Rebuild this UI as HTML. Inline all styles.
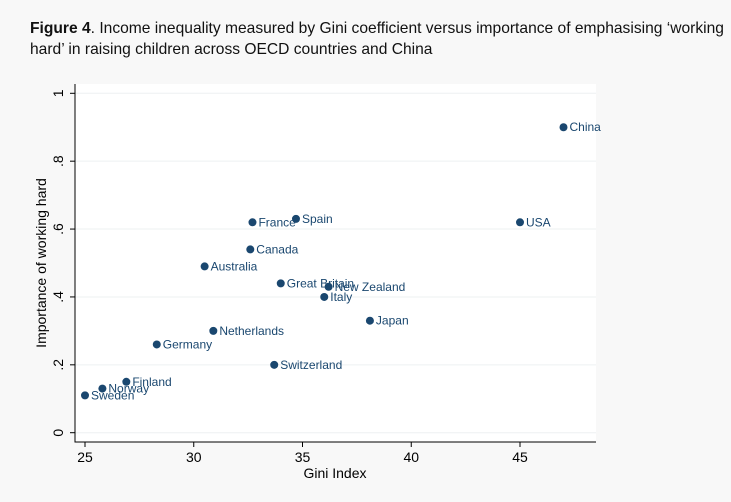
<!DOCTYPE html>
<html><head><meta charset="utf-8"><style>
body{margin:0;background:#f8f8f8;width:731px;height:502px;overflow:hidden;font-family:"Liberation Sans",sans-serif}
#title{position:absolute;left:30px;top:18px;font-size:15.6px;line-height:21px;color:#111;width:700px}
</style></head><body>
<div id="title"><b>Figure 4</b>. Income inequality measured by Gini coefficient versus importance of emphasising ‘working hard’ in raising children across OECD countries and China</div>
<svg id="chart" width="731" height="502" style="position:absolute;left:0;top:0" font-family="Liberation Sans, sans-serif"></svg>
<script>
const countries=["Sweden","Norway","Finland","Germany","Netherlands","Australia","Canada","France","Spain","Great Britain","New Zealand","Italy","Japan","Switzerland","USA","China"];
const gini=[25,25.8,26.9,28.3,30.9,30.5,32.6,32.7,34.7,34.0,36.2,36.0,38.1,33.7,45.0,47.0];
const working=[0.11,0.13,0.15,0.26,0.30,0.49,0.54,0.62,0.63,0.44,0.43,0.40,0.33,0.20,0.62,0.90];
const xTicks=[25,30,35,40,45];
const yTicks=[0,0.2,0.4,0.6,0.8,1];
const yTickLabels=["0",".2",".4",".6",".8","1"];
const NS="http://www.w3.org/2000/svg";
const svg=document.getElementById('chart');
const X=g=>85+(g-25)*21.75;
const Y=v=>432.7-v*339.4;
function el(t,a,p){const e=document.createElementNS(NS,t);for(const k in a)e.setAttribute(k,a[k]);(p||svg).appendChild(e);return e;}
const bg=el('rect',{x:75,y:84,width:521,height:358,fill:'#fff'});


yTicks.forEach((v,i)=>{
  const g=el('line',{x1:75,x2:596,y1:Y(v),y2:Y(v),stroke:'#eef0f2','stroke-width':1});
  
  
  el('line',{x1:70,x2:75,y1:Y(v),y2:Y(v),stroke:'#000'});
  const t=el('text',{x:0,y:0,transform:`translate(${63},${Y(v)}) rotate(-90)`,'text-anchor':'middle','font-size':14,fill:'#000'});
  t.textContent=yTickLabels[i];
  
  
});
xTicks.forEach(v=>{
  el('line',{x1:X(v),x2:X(v),y1:442,y2:447,stroke:'#000'});
  const t=el('text',{x:X(v),y:462,'text-anchor':'middle','font-size':14,fill:'#000'});
  t.textContent=v;
  
  
});
const ax=el('path',{d:'M75,84V442H596',fill:'none',stroke:'#000','stroke-width':1});


const xt=el('text',{x:335,y:478,'text-anchor':'middle','font-size':14,fill:'#000'});
xt.textContent='Gini Index';


const yt=el('text',{x:0,y:0,transform:'translate(46,263) rotate(-90)','text-anchor':'middle','font-size':14,fill:'#000'});
yt.textContent='Importance of working hard';


countries.forEach((c,i)=>{
  const p=el('circle',{cx:X(gini[i]),cy:Y(working[i]),r:4,fill:'#1a476f'});
  
  
  const t=el('text',{x:X(gini[i])+6,y:Y(working[i])+4,'font-size':12,fill:'#1a476f'});
  t.textContent=c;
  
  
});
</script>
</body></html>
